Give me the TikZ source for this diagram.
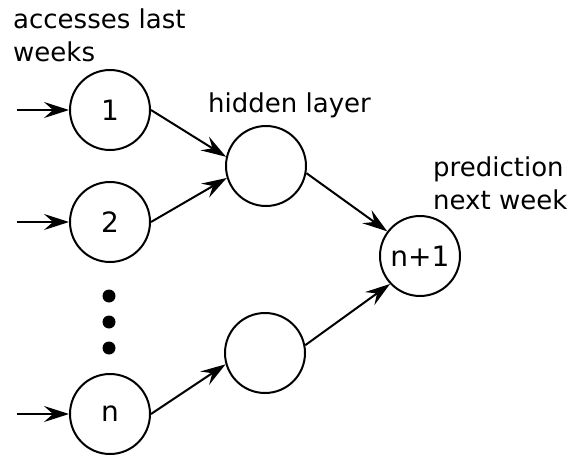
\documentclass[tikz,border=0pt]{standalone}
\usepackage{fontspec}
\setmainfont{DejaVu Sans}
\usetikzlibrary{arrows.meta}

\tikzset{
  neuron/.style={circle, draw, line width=2pt, minimum size=80pt, inner sep=0pt,
    font=\fontsize{28}{33}\selectfont},
  link/.style={line width=2pt, -{Stealth[length=25pt,width=16pt,inset=9pt]}},
  bigdot/.style={circle, fill, minimum size=13pt, inner sep=0pt},
  caption/.style={anchor=base west, inner sep=0pt, align=left},
}

\begin{document}
\begin{tikzpicture}[x=1pt,y=-1pt,font=\fontsize{26}{33}\selectfont]
\useasboundingbox (0,0) rectangle (567,457);
%
\node[caption] (lblin) at (13,61.5) {accesses last\\weeks};
\node[caption] (lblhid) at (208,113) {hidden layer};
\node[caption] (lblout) at (433,209.5) {prediction\\next week};
%
\node[neuron] (in1) at (110,110) {1};
\node[neuron] (in2) at (110,222) {2};
\node[neuron] (inn) at (110,414) {n};
\node[bigdot] (d1) at (109,296) {};
\node[bigdot] (d2) at (109,322) {};
\node[bigdot] (d3) at (109,348) {};
%
\node[neuron] (hid1) at (266,166) {};
\node[neuron] (hid2) at (265,353) {};
\node[neuron] (out) at (420,256) {n+1};
%
\coordinate (s1) at (17,110);
\coordinate (s2) at (17,222);
\coordinate (sn) at (17,414);
\draw[link] (s1) -- (in1);
\draw[link] (s2) -- (in2);
\draw[link] (sn) -- (inn);
%
\draw[link] (in1.east) -- (hid1.167);
\draw[link] (in2.east) -- (hid1.197);
\draw[link] (inn.east) -- (hid2.196);
\draw[link] (hid1.-10) -- (out.143);
\draw[link] (hid2.11) -- (out.223);
%
\end{tikzpicture}
\end{document}
